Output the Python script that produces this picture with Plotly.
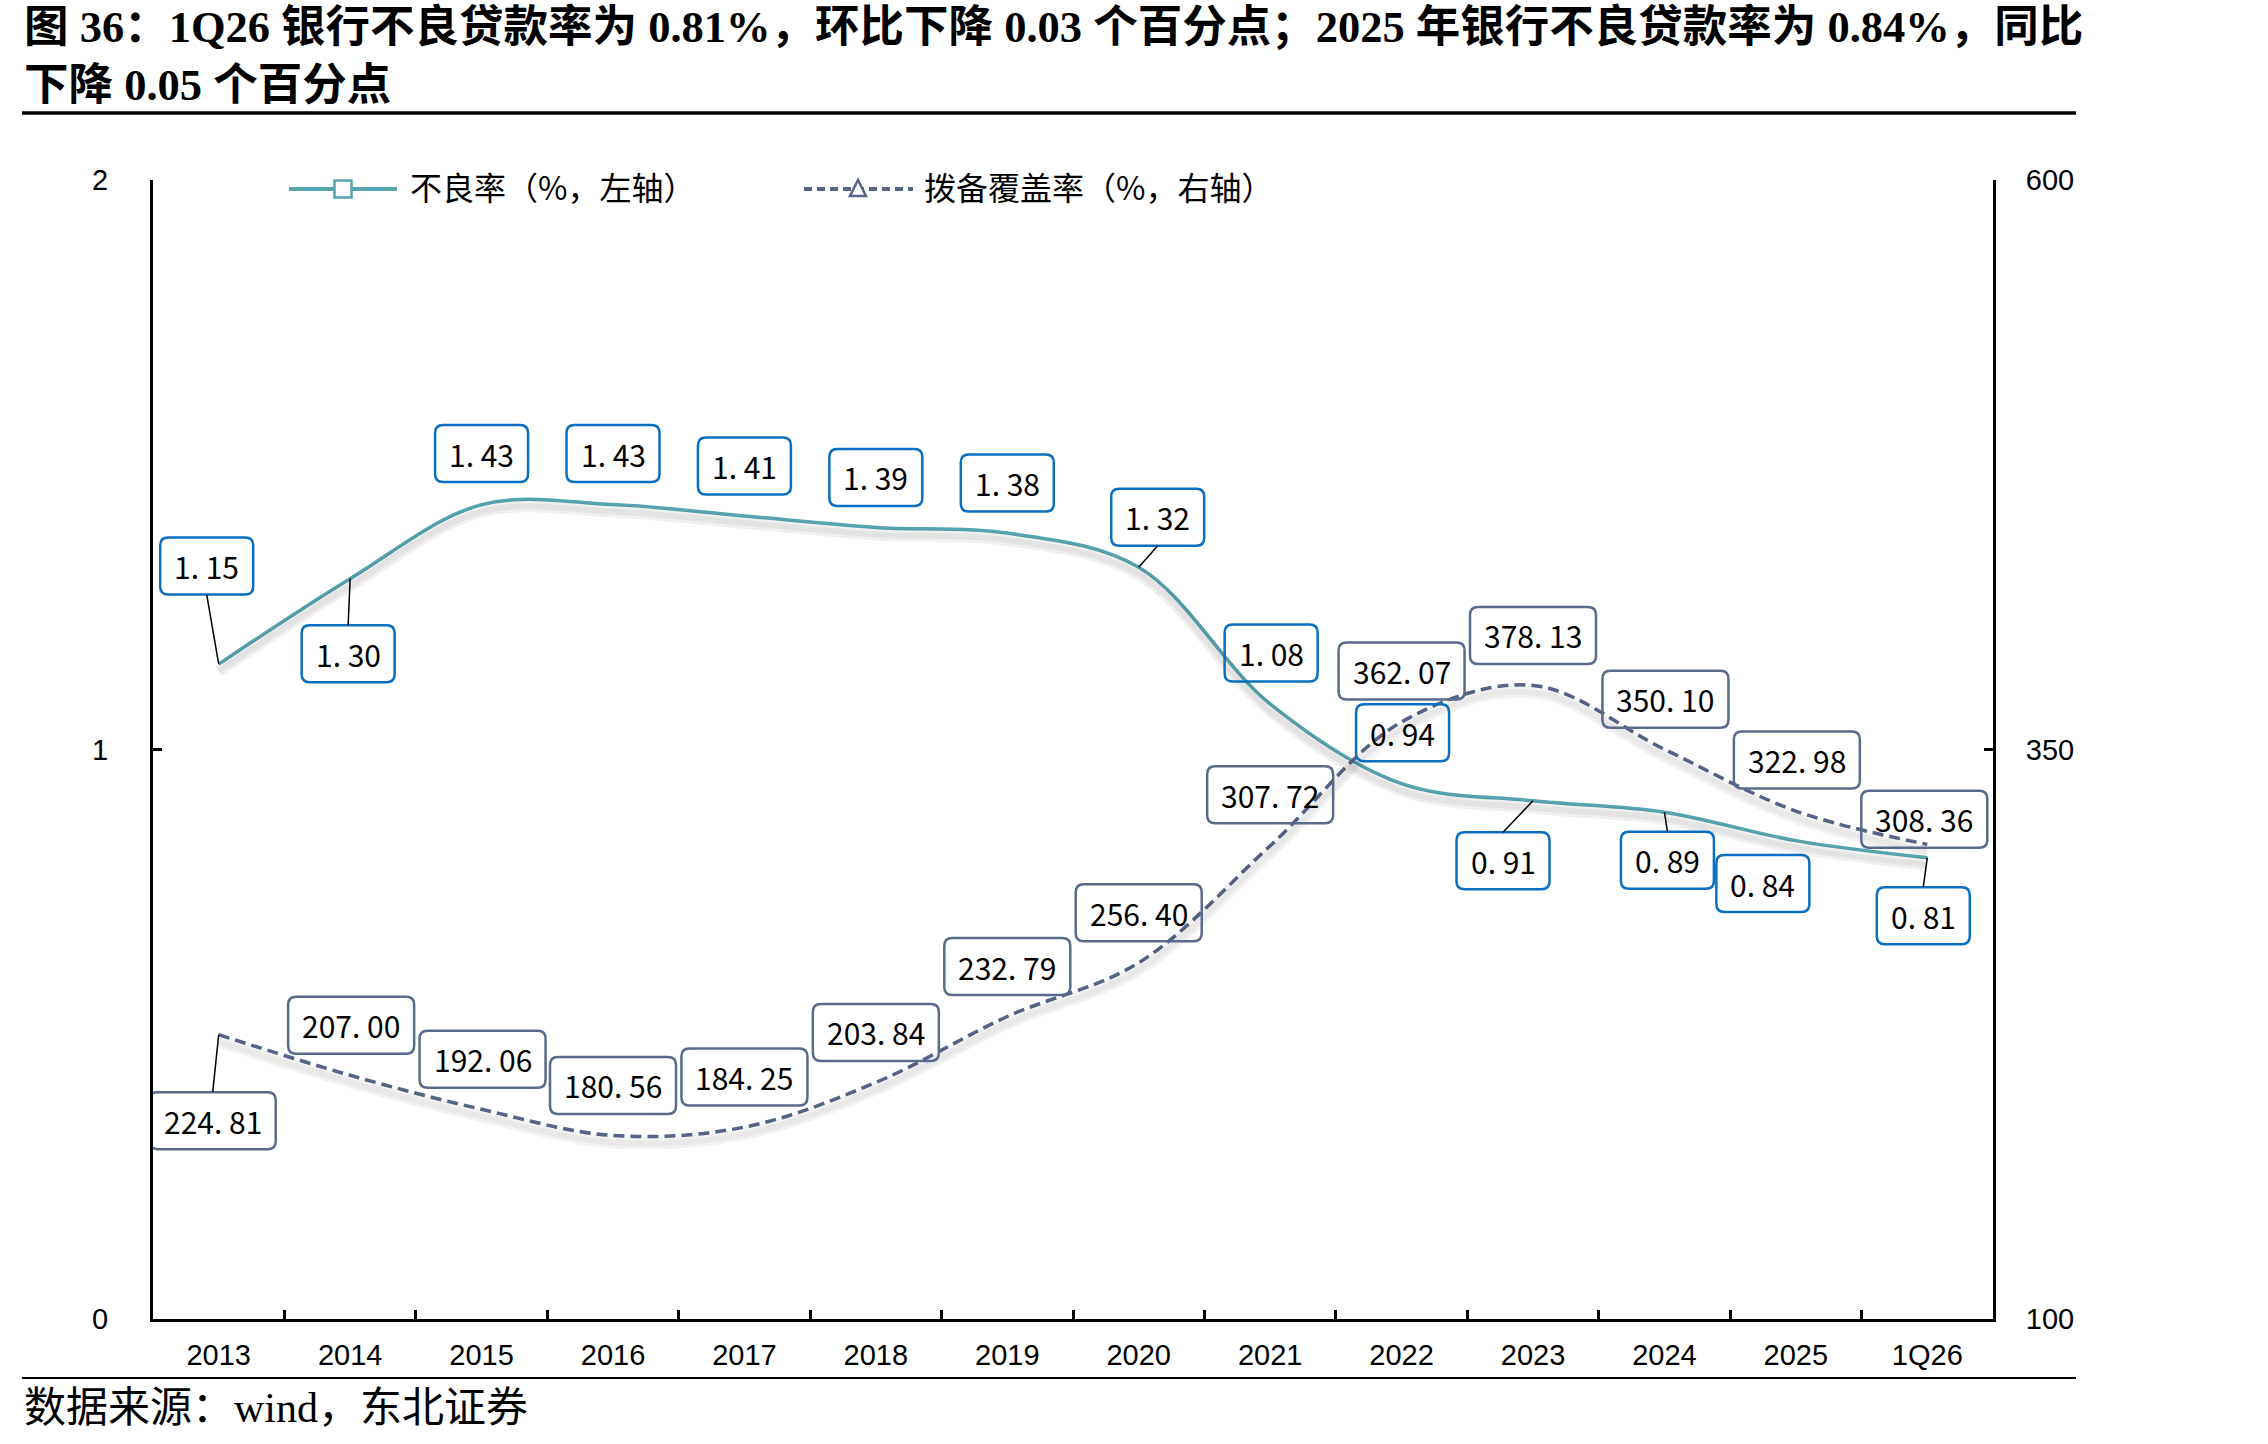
import plotly.graph_objects as go

# ---------------- data ----------------
categories = ["2013", "2014", "2015", "2016", "2017", "2018", "2019",
              "2020", "2021", "2022", "2023", "2024", "2025", "1Q26"]
npl_ratio = [1.15, 1.30, 1.43, 1.43, 1.41, 1.39, 1.38, 1.32, 1.08, 0.94, 0.91, 0.89, 0.84, 0.81]
provision_coverage = [224.81, 207.00, 192.06, 180.56, 184.25, 203.84, 232.79,
                      256.40, 307.72, 362.07, 378.13, 350.10, 322.98, 308.36]
npl_name = "不良率（%，左轴）"
cov_name = "拨备覆盖率（%，右轴）"
left_ticks = [0, 1, 2]
right_ticks = [100, 350, 600]
title_text = ("图 36：1Q26 银行不良贷款率为 0.81%，环比下降 0.03 个百分点；2025 年银行不良贷款率为 0.84%，同比"
              "<br>下降 0.05 个百分点")
source_text = "数据来源：wind，东北证券"

# ---------------- styling ----------------
W, H = 2268, 1444
L, R, T, B = 153, 1993, 180, 1319
PW, PH = R - L, B - T
TEAL = "#57A3AE"
SLATE = "#566487"
BLUE_BOX = "#0A6FC0"
SLATE_BOX = "#5A6A8A"
TICK_FONT = dict(family="Liberation Sans, Arial, sans-serif", size=29, color="#000")
LABEL_FONT = dict(family="Noto Sans CJK SC, Noto Sans, sans-serif", size=30, color="#000")
CJK_FONT = "Noto Sans CJK SC, sans-serif"

# label box centre offsets from the point (px, screen y down), and whether a leader is drawn
npl_label_style = [(-12, -98, True), (-2, 75, True), (0, -51, False), (0, -51, False),
                   (0, -50, False), (0, -50, False), (0, -50, False), (19, -50, True),
                   (1, -51, False), (1, -51, False), (-30, 60, True), (3, 48, True),
                   (-33, 43, False), (-4, 58, True)]
cov_label_style = [(-6, 86, True), (1, -50, False), (1, -50, False), (0, -50, False),
                   (0, -50, False), (0, -50, False), (0, -50, False), (0, -50, False),
                   (0, -51, False), (0, -51, False), (0, -50, False), (1, -50, False),
                   (1, -51, False), (-3, -25, False)]


def px_x(p):
    return (p - L) / PW


def px_y(p):
    return (B - p) / PH


def rr_path(cx, cy, w, h, r):
    x0, x1 = cx - w / 2, cx + w / 2
    y0, y1 = cy - h / 2, cy + h / 2
    return (f"M{x0 + r},{y0} L{x1 - r},{y0} Q{x1},{y0} {x1},{y0 + r} "
            f"L{x1},{y1 - r} Q{x1},{y1} {x1 - r},{y1} "
            f"L{x0 + r},{y1} Q{x0},{y1} {x0},{y1 - r} "
            f"L{x0},{y0 + r} Q{x0},{y0} {x0 + r},{y0} Z")


fig = go.Figure()

# soft shadows under the lines (overlay axes shifted by a few pixels)
shadow_px = 7
fig.add_trace(go.Scatter(x=categories, y=npl_ratio, yaxis="y3", mode="lines",
                         line=dict(color="rgba(0,0,0,0.06)", width=12, shape="spline"),
                         hoverinfo="skip", showlegend=False))
fig.add_trace(go.Scatter(x=categories, y=npl_ratio, yaxis="y3", mode="lines",
                         line=dict(color="rgba(0,0,0,0.05)", width=6, shape="spline"),
                         hoverinfo="skip", showlegend=False))
fig.add_trace(go.Scatter(x=categories, y=provision_coverage, yaxis="y4", mode="lines",
                         line=dict(color="rgba(0,0,0,0.05)", width=12, shape="spline"),
                         hoverinfo="skip", showlegend=False))
fig.add_trace(go.Scatter(x=categories, y=provision_coverage, yaxis="y4", mode="lines",
                         line=dict(color="rgba(0,0,0,0.04)", width=6, shape="spline"),
                         hoverinfo="skip", showlegend=False))

fig.add_trace(go.Scatter(x=categories, y=npl_ratio, name=npl_name, mode="lines",
                         line=dict(color=TEAL, width=3.5, shape="spline"), showlegend=False))
fig.add_trace(go.Scatter(x=categories, y=provision_coverage, name=cov_name, yaxis="y2", mode="lines",
                         line=dict(color=SLATE, width=3.5, shape="spline", dash="11px,6px"),
                         showlegend=False))

shapes = []
annotations = []


def add_labels(values, styles, yref, border):
    for i, (v, (dx, dy, leader)) in enumerate(zip(values, styles)):
        txt = f"{v:.2f}".replace(".", ". ")
        w = 93 if v < 100 else 126
        h = 57
        cx, cy = dx, -dy  # up-positive pixel coords
        shapes.append(dict(type="path", xref="x", yref=yref, xsizemode="pixel", ysizemode="pixel",
                           xanchor=i, yanchor=v, path=rr_path(cx, cy, w, h, 8),
                           line=dict(color=border, width=2.5), fillcolor="rgba(0,0,0,0)", layer="above"))
        if leader:
            ey = cy - h / 2 if cy > 0 else cy + h / 2
            shapes.append(dict(type="line", xref="x", yref=yref, xsizemode="pixel", ysizemode="pixel",
                               xanchor=i, yanchor=v, x0=0, y0=0, x1=cx, y1=ey,
                               line=dict(color="#000", width=1.5), layer="above"))
        annotations.append(dict(x=i, y=v, xref="x", yref=yref, text=txt, showarrow=False,
                                xshift=dx, yshift=-dy, xanchor="center", yanchor="middle",
                                font=LABEL_FONT))


add_labels(npl_ratio, npl_label_style, "y", BLUE_BOX)
add_labels(provision_coverage, cov_label_style, "y2", SLATE_BOX)

# ---------- manual legend ----------
ly = px_y(189)
shapes.append(dict(type="line", xref="paper", yref="paper", x0=px_x(289), x1=px_x(397), y0=ly, y1=ly,
                   line=dict(color=TEAL, width=4)))
shapes.append(dict(type="rect", xref="paper", yref="paper", xsizemode="pixel", ysizemode="pixel",
                   xanchor=px_x(343), yanchor=ly, x0=-8.5, x1=8.5, y0=-8.5, y1=8.5,
                   line=dict(color=TEAL, width=2.5), fillcolor="white"))
shapes.append(dict(type="line", xref="paper", yref="paper", x0=px_x(804), x1=px_x(913), y0=ly, y1=ly,
                   line=dict(color=SLATE, width=4, dash="8px,5px")))
shapes.append(dict(type="path", xref="paper", yref="paper", xsizemode="pixel", ysizemode="pixel",
                   xanchor=px_x(858), yanchor=ly, path="M-8,-7 L8,-7 L0,9 Z",
                   line=dict(color=SLATE, width=2.5), fillcolor="white"))
annotations.append(dict(x=px_x(408), y=px_y(186), xref="paper", yref="paper", text=npl_name,
                        showarrow=False, xanchor="left", yanchor="middle",
                        font=dict(family=CJK_FONT, size=32, color="#000")))
annotations.append(dict(x=px_x(922), y=px_y(186), xref="paper", yref="paper", text=cov_name,
                        showarrow=False, xanchor="left", yanchor="middle",
                        font=dict(family=CJK_FONT, size=32, color="#000")))

# ---------- title, rules, source ----------
annotations.append(dict(x=px_x(22), y=px_y(56), xref="paper", yref="paper", text=title_text,
                        showarrow=False, xanchor="left", yanchor="middle", align="left",
                        font=dict(family="Liberation Serif, Times New Roman, Noto Sans CJK SC, serif",
                                  size=44.5, color="#000", weight="bold")))
shapes.append(dict(type="line", xref="paper", yref="paper", x0=px_x(22), x1=px_x(2076),
                   y0=px_y(113), y1=px_y(113), line=dict(color="#000", width=3.5)))
shapes.append(dict(type="line", xref="paper", yref="paper", x0=px_x(22), x1=px_x(2076),
                   y0=px_y(1378), y1=px_y(1378), line=dict(color="#000", width=2)))
annotations.append(dict(x=px_x(22), y=px_y(1408), xref="paper", yref="paper", text=source_text,
                        showarrow=False, xanchor="left", yanchor="middle",
                        font=dict(family="Liberation Serif, Times New Roman, Noto Sans CJK SC, serif",
                                  size=42, color="#000")))

s_left = shadow_px * 2 / PH
s_right = shadow_px * 500 / PH

fig.update_layout(
    width=W, height=H,
    margin=dict(l=L, r=W - R, t=T, b=H - B, pad=0),
    paper_bgcolor="white", plot_bgcolor="white",
    showlegend=False,
    shapes=shapes, annotations=annotations,
    xaxis=dict(type="category", categoryorder="array", categoryarray=categories,
               range=[-0.5, len(categories) - 0.5], showgrid=False, zeroline=False,
               showline=True, linecolor="#000", linewidth=3,
               ticks="inside", tickson="boundaries", ticklen=9, tickwidth=2.5, tickcolor="#000",
               tickfont=TICK_FONT, ticklabelstandoff=8),
    yaxis=dict(range=[0, 2], tickvals=left_ticks, showgrid=False, zeroline=False,
               showline=True, linecolor="#000", linewidth=3,
               ticks="inside", ticklen=9, tickwidth=2.5, tickcolor="#000",
               tickfont=TICK_FONT, ticklabelstandoff=36),
    yaxis2=dict(range=[100, 600], tickvals=right_ticks, overlaying="y", side="right",
                showgrid=False, zeroline=False,
                showline=True, linecolor="#000", linewidth=3,
                ticks="inside", ticklen=9, tickwidth=2.5, tickcolor="#000",
                tickfont=TICK_FONT, ticklabelstandoff=24),
    yaxis3=dict(range=[0 + s_left, 2 + s_left], overlaying="y", visible=False),
    yaxis4=dict(range=[100 + s_right, 600 + s_right], overlaying="y", visible=False),
)

fig.write_html("out.html")
